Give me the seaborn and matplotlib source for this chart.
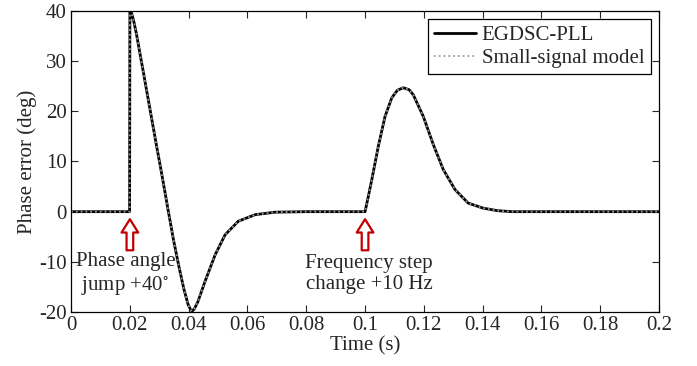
import matplotlib
matplotlib.use("Agg")
import matplotlib.pyplot as plt
import seaborn as sns

# phase error (time in s, error in deg)
t = [0.0, 0.0199, 0.02, 0.0206, 0.0213, 0.0222, 0.0236, 0.0262, 0.0288,
     0.0313, 0.0331, 0.0348, 0.0367, 0.0384, 0.0398, 0.0407, 0.0412, 0.0419,
     0.0431, 0.0455, 0.049, 0.0524, 0.0569, 0.0626, 0.0694, 0.08, 0.1,
     0.1011, 0.1023, 0.1045, 0.1068, 0.1091, 0.111, 0.113, 0.115, 0.1164,
     0.1198, 0.1232, 0.1266, 0.1306, 0.1351, 0.1402, 0.145, 0.15, 0.2]
err_pll = [0.0, 0.0, 40.0, 39.5, 38.0, 35.5, 31.0, 22.5, 14.0,
           6.0, 0.0, -5.5, -11.0, -15.5, -18.5, -19.6, -19.8, -19.4,
           -18.0, -14.0, -8.6, -4.6, -1.9, -0.6, -0.1, 0.0, 0.0,
           3.0, 6.4, 13.0, 19.0, 22.7, 24.2, 24.7, 24.3, 23.3,
           19.0, 13.4, 8.4, 4.4, 1.7, 0.7, 0.2, 0.0, 0.0]
err_model = list(err_pll)  # overlaps the PLL trace

x_ticks = [0, 0.02, 0.04, 0.06, 0.08, 0.1, 0.12, 0.14, 0.16, 0.18, 0.2]
x_labels = ["0", "0.02", "0.04", "0.06", "0.08", "0.1", "0.12", "0.14", "0.16", "0.18", "0.2"]
y_ticks = [-20, -10, 0, 10, 20, 30, 40]

events = [0.02, 0.1]
event_text = ["Phase angle\njump +40$^{\\circ}$", "Frequency step\nchange +10 Hz"]
text_x = [0.0185, 0.1014]

sns.set_style("ticks")
plt.rcParams["font.family"] = ["Liberation Serif", "DejaVu Serif"]
plt.rcParams["mathtext.fontset"] = "stix"
plt.rcParams["axes.unicode_minus"] = False
plt.rcParams["font.size"] = 15

fig = plt.figure(figsize=(6.97, 3.66), dpi=100)
ax = fig.add_axes([0.102, 0.1475, 0.8435, 0.8225])

sns.lineplot(x=t, y=err_pll, estimator=None, sort=False, color="black",
             lw=2.0, label="EGDSC-PLL", ax=ax)
sns.lineplot(x=t, y=err_model, estimator=None, sort=False, color="#9a9a9a",
             lw=1.3, linestyle=":", label="Small-signal model", ax=ax)

for ev, txt, tx in zip(events, event_text, text_x):
    ax.annotate("", xy=(ev, -1.5), xytext=(ev, -7.7),
                arrowprops=dict(arrowstyle="simple,head_length=0.8,head_width=1.0,tail_width=0.4",
                                fc="white", ec="#c00000", lw=1.6,
                                shrinkA=0, shrinkB=0, mutation_scale=12))
    ax.text(tx, -12.5, txt, ha="center", va="center", fontsize=15, linespacing=1.15)

ax.set_xlim(0, 0.2)
ax.set_ylim(-20, 40)
ax.set_xticks(x_ticks)
ax.set_xticklabels(x_labels)
ax.set_yticks(y_ticks)
ax.tick_params(direction="in", top=True, right=True, length=5, width=0.8,
               labelsize=15, pad=3)
for s in ax.spines.values():
    s.set_visible(True)
    s.set_linewidth(0.9)
    s.set_color("black")

ax.set_xlabel("Time (s)", fontsize=15, labelpad=1)
ax.set_ylabel("Phase error (deg)", fontsize=15, labelpad=2)

leg = ax.legend(loc="upper right", fontsize=15, fancybox=False, framealpha=1,
                edgecolor="black", borderpad=0.3, handlelength=2.0,
                handletextpad=0.3, borderaxespad=0.4, labelspacing=0.15)
leg.get_frame().set_linewidth(0.9)

fig.savefig("out.png", dpi=100)
